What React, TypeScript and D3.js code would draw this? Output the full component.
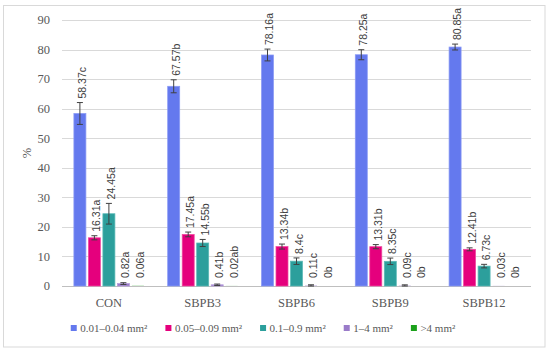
import React from "react";
import * as d3 from "d3";

const categories = ["CON", "SBPB3", "SBPB6", "SBPB9", "SBPB12"];
const seriesNames = ["0.01–0.04 mm²", "0.05–0.09 mm²", "0.1–0.9 mm²", "1–4 mm²", ">4 mm²"];
const seriesColors = ["#6479EE", "#E5007D", "#2C9F9C", "#9A7BC9", "#1BA11B"];
const seriesStroke = ["#8A9AF5", "#F04AA0", "#5BB9B6", "#B69DDB", "#4CBB4C"];

// values per series (rows) across categories (columns)
const values = [
  [58.37, 67.57, 78.16, 78.25, 80.85],
  [16.31, 17.45, 13.34, 13.31, 12.41],
  [24.45, 14.55, 8.4, 8.35, 6.73],
  [0.82, 0.41, 0.11, 0.09, 0.03],
  [0.06, 0.02, 0, 0, 0],
];
const errors = [
  [3.7, 2.2, 2.0, 1.7, 1.0],
  [0.7, 0.8, 0.85, 0.7, 0.5],
  [3.5, 1.2, 1.1, 1.1, 0.6],
  [0.3, 0.25, 0.3, 0.3, 0],
  [0, 0, 0, 0, 0],
];
const letters = [
  ["c", "b", "a", "a", "a"],
  ["a", "a", "b", "b", "b"],
  ["a", "b", "c", "c", "c"],
  ["a", "b", "c", "c", "c"],
  ["a", "ab", "b", "b", "b"],
];
const yTicks = [0, 10, 20, 30, 40, 50, 60, 70, 80, 90];

const W = 550;
const H = 354;
const SERIF = "Liberation Serif";
const SANS = "Liberation Sans";

function measure(text: string, font: string): number {
  if (typeof document === "undefined") return text.length * 6;
  const c = document.createElement("canvas");
  const ctx = c.getContext("2d");
  if (!ctx) return text.length * 6;
  ctx.font = font;
  return ctx.measureText(text).width;
}

export default function App() {
  const plotL = 62;
  const plotR = 531;
  const yTop = 20;
  const yBase = 286;

  const y = d3.scaleLinear().domain([0, 90]).range([yBase, yTop]);
  const x0 = d3.scaleBand<string>().domain(categories).range([plotL, plotR]);
  const x1 = d3
    .scaleBand<number>()
    .domain(d3.range(seriesNames.length))
    .range([0, x0.bandwidth()])
    .paddingInner(0.172)
    .paddingOuter(0.82);

  const bw = x1.bandwidth();

  // legend layout
  const legendSize = 11;
  const legendFont = `${legendSize}px "${SERIF}"`;
  const marker = 6;
  const markerGap = 3.5;
  const itemGap = 18;
  const widths = seriesNames.map((s) => measure(s, legendFont));
  const itemWidths = widths.map((w) => marker + markerGap + w);
  const totalW = d3.sum(itemWidths) + itemGap * (seriesNames.length - 1);
  const legendCenter = 263;
  let lx = legendCenter - totalW / 2;
  const legendX: number[] = [];
  itemWidths.forEach((w) => {
    legendX.push(lx);
    lx += w + itemGap;
  });

  return (
    <svg width={W} height={H} style={{ position: "absolute", left: 0, top: 0, background: "#fff" }}>
      <rect x={3.5} y={5.5} width={541.5} height={341.5} fill="#fff" stroke="#D9D9D9" strokeWidth={1} />
      {/* gridlines */}
      {yTicks.map((t) => (
        <line
          key={t}
          x1={plotL}
          x2={plotR}
          y1={Math.round(y(t)) + 0.5}
          y2={Math.round(y(t)) + 0.5}
          stroke={t === 0 ? "#BFBFBF" : "#D9D9D9"}
          strokeWidth={1}
        />
      ))}
      {/* y tick labels */}
      {yTicks.map((t) => (
        <text
          key={"yt" + t}
          x={50}
          y={y(t)}
          dy="0.35em"
          textAnchor="end"
          style={{ fontFamily: SERIF, fontSize: 12.5 }}
          fill="#595959"
        >
          {t}
        </text>
      ))}
      {/* y axis title */}
      <text
        transform={`translate(31, ${(yTop + yBase) / 2}) rotate(-90)`}
        textAnchor="middle"
        style={{ fontFamily: SERIF, fontSize: 12.5 }}
        fill="#595959"
      >
        %
      </text>
      {/* bars */}
      {categories.map((cat, ci) => (
        <g key={cat} transform={`translate(${x0(cat)},0)`}>
          {seriesNames.map((_, si) => {
            const v = values[si][ci];
            const e = errors[si][ci];
            const bx = x1(si)!;
            const cx = bx + bw / 2;
            const top = y(v);
            const eTop = y(v + e);
            const eBot = y(Math.max(0, v - e));
            const labelBottom = Math.min(eTop - 4, yBase - 8);
            return (
              <g key={si}>
                <rect
                  x={bx}
                  y={top}
                  width={bw}
                  height={Math.max(0, yBase - top)}
                  fill={seriesColors[si]}
                  stroke={v > 0.2 ? seriesStroke[si] : "none"}
                  strokeWidth={0.75}
                />
                {e > 0 && (
                  <g stroke="#404040" strokeWidth={1}>
                    <line x1={cx} x2={cx} y1={eTop} y2={eBot} />
                    <line x1={cx - 3} x2={cx + 3} y1={eTop} y2={eTop} />
                    <line x1={cx - 3} x2={cx + 3} y1={eBot} y2={eBot} />
                  </g>
                )}
                <text
                  transform={`translate(${cx + 2}, ${labelBottom}) rotate(-90)`}
                  textAnchor="start"
                  dominantBaseline="central"
                  style={{ fontFamily: SANS, fontSize: 10.5 }}
                  fill="#404040"
                >
                  {`${v}${letters[si][ci]}`}
                </text>
              </g>
            );
          })}
          <text
            x={x0.bandwidth() / 2}
            y={306.5}
            textAnchor="middle"
            style={{ fontFamily: SERIF, fontSize: 12.5 }}
            fill="#595959"
          >
            {cat}
          </text>
        </g>
      ))}
      {/* legend */}
      {seriesNames.map((s, i) => (
        <g key={"lg" + i} transform={`translate(${legendX[i]},0)`}>
          <rect x={0} y={325} width={marker} height={marker} fill={seriesColors[i]} />
          <text x={marker + markerGap} y={332} style={{ fontFamily: SERIF, fontSize: legendSize }} fill="#595959">
            {s}
          </text>
        </g>
      ))}
    </svg>
  );
}
